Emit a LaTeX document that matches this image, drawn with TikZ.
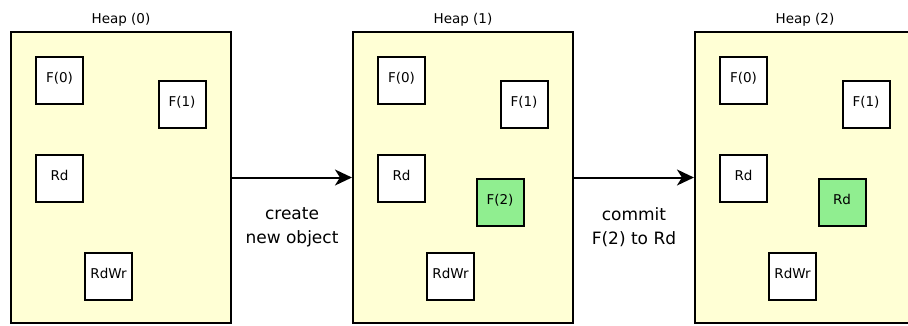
\documentclass[tikz,border=0pt]{standalone}
\usepackage{fontspec}
\setmainfont{DejaVu Sans}
\usetikzlibrary{arrows.meta}
\definecolor{heapfill}{HTML}{FFFFD5}
\definecolor{newobj}{HTML}{90EE90}
\begin{document}
\begin{tikzpicture}[
  x=1pt, y=-1pt,
  every node/.style={align=center},
  heap/.style={draw, line width=2.1pt, fill=heapfill, inner sep=0pt,
    minimum width=220pt, minimum height=291pt,
    label={[font=\fontsize{13.5}{16}\selectfont, label distance=1pt]above:#1}},
  obj/.style={draw, line width=2pt, fill=white, inner sep=0pt,
    minimum size=47pt, text height=10pt, text depth=5.5pt,
    font=\fontsize{13.5}{16}\selectfont},
  fresh/.style={obj, fill=newobj},
  flow/.style={-{Stealth[length=17pt,width=16pt,inset=5pt]}, line width=2pt},
  note/.style={font=\fontsize{17}{24}\selectfont, below=26pt}]
\useasboundingbox (0,0) rectangle (908,325);

% Each heap holds the same four objects
\foreach \i/\dx in {0/0,1/342,2/684} {
  \node[heap=Heap (\i)] (heap\i) at (121+\dx,177.5) {};
  \node[obj] (fzero\i) at (59.5+\dx,80) {F(0)};
  \node[obj] (fone\i) at (182+\dx,104.5) {F(1)};
  \node[obj] (rd\i) at (59.5+\dx,178) {Rd};
  \node[obj] (rdwr\i) at (108.5+\dx,276) {RdWr};
}

% Objects that are new in a heap
\node[fresh] (ftwo) at (500,202.5) {F(2)};
\node[fresh] (rdnew) at (842,202.5) {Rd};

% Steps between the heaps
\draw [flow] (heap0) -- node[note] {create\\new object} (heap1);
\draw [flow] (heap1) -- node[note] {commit\\F(2) to Rd} (heap2);
\end{tikzpicture}
\end{document}
